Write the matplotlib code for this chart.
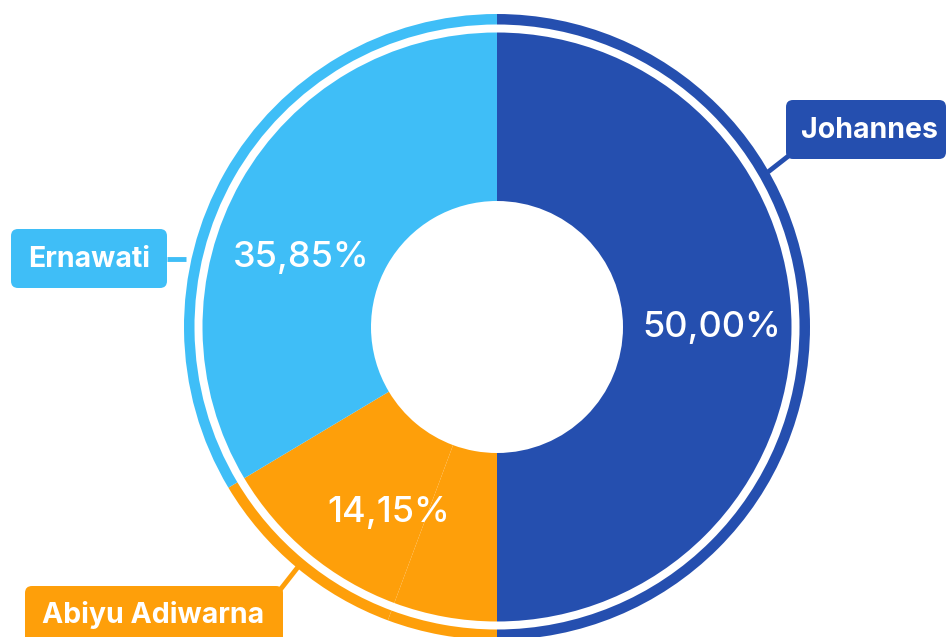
import matplotlib
matplotlib.use("Agg")
import matplotlib.pyplot as plt
from matplotlib.patches import FancyBboxPatch

# ---- data ----
categories = ["Johannes", "Abiyu Adiwarna", "Ernawati"]
pct_labels = ["50,00%", "14,15%", "35,85%"]
# slices as drawn (the orange share is made of two adjoining parts, visible seam)
slice_values = [50.00, 5.67, 10.75, 33.58]
slice_owner = [0, 1, 1, 2]
colors = ["#254FAF", "#FE9F0A", "#3FBEF7"]

W, H = 947, 637
fig = plt.figure(figsize=(W / 100, H / 100), dpi=100)
ax = fig.add_axes([0, 0, 1, 1])
ax.set_xlim(0, W)
ax.set_ylim(0, H)
ax.axis("off")

cx, cy = 497, H - 327
r_in_outer, r_hole = 294.5, 126
r_ring, ring_w = 313, 10.5

slice_colors = [colors[i] for i in slice_owner]
ax.pie(slice_values, radius=r_in_outer, center=(cx, cy), startangle=90,
       counterclock=False, colors=slice_colors,
       wedgeprops=dict(width=r_in_outer - r_hole, linewidth=0))
ax.pie(slice_values, radius=r_ring, center=(cx, cy), startangle=90,
       counterclock=False, colors=slice_colors,
       wedgeprops=dict(width=ring_w, linewidth=0))
ax.set_xlim(0, W)
ax.set_ylim(0, H)
ax.set_aspect("equal")

font = "Inter"
# percentage labels (center x, baseline y in pixels from top)
pct_pos = [(711.5, 336.7), (388.5, 521.7), (301, 266.7)]
for (x, y), t in zip(pct_pos, pct_labels):
    ax.text(x, H - y, t, color="white", fontsize=26, family=font,
            fontweight="medium", ha="center", va="baseline")

# category label boxes (x0, y0, x1, y1 in pixel coords from top)
boxes = [(786, 100, 946, 159), (25, 586, 283, 660), (11, 229, 167, 288)]
text_pos = [(869.5, 138.3), (153.5, 623), (89.5, 266.7)]
connectors = [[(791, 154), (768, 172)], [(280, 590), (298, 567)],
              [(167, 259), (186, 259)]]
for i, cat in enumerate(categories):
    x0, y0, x1, y1 = boxes[i]
    (ax_, ay_), (bx_, by_) = connectors[i]
    ax.plot([ax_, bx_], [H - ay_, H - by_], color=colors[i], lw=3.5,
            solid_capstyle="butt", zorder=3)
    p = FancyBboxPatch((x0, H - y1), x1 - x0, y1 - y0,
                       boxstyle="round,pad=0,rounding_size=7",
                       fc=colors[i], ec="none", zorder=4)
    ax.add_patch(p)
    tx, ty = text_pos[i]
    ax.text(tx, H - ty, cat, color="white", fontsize=20.5, family=font,
            fontweight="bold", ha="center", va="baseline", zorder=5)

fig.savefig("out.png", dpi=100)
